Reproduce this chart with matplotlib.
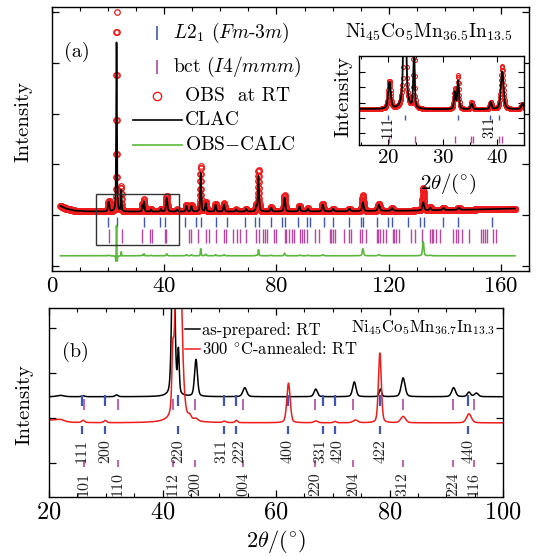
import numpy as np
import matplotlib
matplotlib.use("Agg")
import matplotlib.pyplot as plt
from matplotlib.ticker import MultipleLocator
from matplotlib.patches import Rectangle
from matplotlib.transforms import offset_copy

plt.rcParams["font.family"] = ["cmr10", "DejaVu Serif"]
plt.rcParams["mathtext.fontset"] = "cm"
plt.rcParams["axes.formatter.use_mathtext"] = True
plt.rcParams["axes.unicode_minus"] = False

# ---------------- panel (a) data (Rietveld refinement) ----------------
a_range = [3.0, 165.0]
a_step = 0.05
a_bg_x = [3, 5, 8, 12, 20, 60, 100, 130, 150, 165]
a_bg_y = [1.18, 1.13, 1.09, 1.075, 1.07, 1.07, 1.075, 1.09, 1.11, 1.13]
a_peak_pos = [20.2, 23.0, 24.7, 32.2, 32.8, 35.3, 38.8, 40.9, 44.6, 47.9, 49.7,
              53.0, 54.8, 58.3, 61.3, 65.6, 69.2, 72.8, 73.6, 78.1, 82.9, 88.2,
              91.2, 96.5, 100.2, 106.0, 110.8, 116.5, 121.2, 132.3, 134.8,
              139.5, 145.0]
a_obs_h = [0.20, 3.93, 0.50, 0.14, 0.24, 0.05, 0.05, 0.31, 0.04, 0.13, 0.13,
           0.90, 0.19, 0.15, 0.16, 0.04, 0.05, 0.11, 0.82, 0.08, 0.32, 0.11,
           0.06, 0.15, 0.05, 0.05, 0.31, 0.14, 0.05, 0.44, 0.06, 0.04, 0.04]
a_calc_h = [0.19, 3.33, 0.42, 0.12, 0.20, 0.04, 0.05, 0.27, 0.04, 0.11, 0.11,
            0.76, 0.16, 0.13, 0.14, 0.04, 0.05, 0.10, 0.70, 0.07, 0.27, 0.10,
            0.05, 0.13, 0.05, 0.05, 0.17, 0.12, 0.05, 0.16, 0.05, 0.04, 0.04]
a_fwhm = [0.55, 0.28, 0.28, 0.35, 0.35, 0.40, 0.40, 0.55, 0.50, 0.50, 0.50,
          0.40, 0.50, 0.50, 0.50, 0.50, 0.50, 0.50, 0.45, 0.60, 0.55, 0.60,
          0.60, 0.60, 0.60, 0.70, 0.60, 0.80, 0.70, 0.60, 0.70, 0.80, 0.80]
a_calc_fwhm = [0.55, 0.32, 0.30, 0.35, 0.37, 0.40, 0.40, 0.57, 0.50, 0.50, 0.50,
               0.42, 0.50, 0.50, 0.50, 0.50, 0.50, 0.50, 0.47, 0.60, 0.57, 0.60,
               0.60, 0.60, 0.60, 0.70, 0.65, 0.80, 0.70, 0.70, 0.70, 0.80, 0.80]
a_diff_offset = 0.2
a_l21_ticks = [20.0, 23.0, 32.7, 38.6, 40.4, 47.3, 51.4, 53.0, 58.5, 62.5, 68.9,
               72.3, 73.6, 78.2, 81.8, 83.0, 87.5, 90.8, 92.1, 96.8, 100.1, 106.0,
               110.0, 110.8, 115.7, 119.7, 121.1, 126.8, 131.2, 132.7, 139.2,
               144.8, 156.8]
a_bct_ticks = [20.2, 24.8, 32.2, 35.1, 35.5, 40.4, 40.8, 48.8, 49.7, 52.0, 55.0,
               55.9, 58.5, 61.2, 61.9, 64.5, 65.9, 66.9, 69.2, 72.8, 73.7, 75.2,
               76.0, 76.7, 79.1, 79.9, 82.9, 83.5, 84.4, 85.5, 86.1, 88.5, 89.1,
               89.7, 90.8, 93.9, 95.1, 98.9, 99.5, 100.1, 100.7, 104.2, 106.0,
               106.6, 109.6, 110.5, 111.9, 115.7, 116.3, 116.9, 117.9, 119.1,
               121.4, 122.0, 122.6, 123.5, 128.0, 129.5, 131.9, 134.7, 135.3,
               135.9, 136.9, 138.3, 143.0, 143.9, 144.8, 146.1, 148.7, 152.9,
               153.7, 154.4, 155.2, 157.0, 158.2]
a_l21_rows = [0.77, 0.96]
a_bct_rows = [0.46, 0.72]
a_inset_l21_rows = [0.994, 1.03]
a_inset_bct_rows = [0.83, 0.88]
a_inset_labels = ["111", "311"]
a_inset_label_pos = [20.0, 38.6]
a_inset_label_y = 0.944
a_zoom_box = [15.6, 45.2, 0.41, 1.41]
a_legend_labels = [r"$L2_1$ $(Fm$-$3m)$", r"bct $(I4/mmm)$", "OBS  at RT",
                   "CLAC", r"OBS$-$CALC"]

# ---------------- panel (b) data ----------------
b_range = [20.0, 100.0]
b_step = 0.02
b_asprep_base = 1.47
b_asprep_pos = [22.0, 26.0, 31.9, 41.9, 42.8, 45.9, 54.5, 67.0, 73.8, 78.4,
                82.4, 91.3, 94.0, 95.3]
b_asprep_h = [0.03, 0.02, 0.04, 4.0, 0.95, 0.82, 0.20, 0.17, 0.33, 0.17,
              0.42, 0.20, 0.10, 0.08]
b_asprep_w = [1.5, 0.6, 0.6, 0.6, 0.35, 0.6, 0.8, 0.7, 0.7, 0.5, 0.8, 0.8,
              0.7, 0.8]
b_ann_bg_x = [20, 23, 30, 100]
b_ann_bg_y = [0.95, 0.90, 0.89, 0.89]
b_ann_pos = [22.0, 26.0, 29.9, 41.8, 42.8, 44.8, 45.9, 50.9, 53.0, 62.2,
             67.0, 70.4, 74.0, 78.3, 82.4, 94.0]
b_ann_h = [0.05, 0.05, 0.05, 0.90, 5.0, 0.08, 0.05, 0.03, 0.05, 0.88, 0.04,
           0.03, 0.06, 1.55, 0.14, 0.20]
b_ann_w = [2.0, 0.6, 0.6, 0.35, 1.2, 0.6, 0.8, 0.6, 0.5, 0.7, 0.8, 0.6, 1.0,
           0.6, 1.0, 1.0]
b_l21_pos = [25.8, 29.9, 42.8, 50.9, 53.0, 62.1, 68.3, 70.4, 78.4, 93.9]
b_l21_hkl = ["111", "200", "220", "311", "222", "400", "331", "420", "422", "440"]
b_l21_nudge = [0, 0, 0, -2, 2, 0, -2, 2, 0, 0]
b_bct_pos = [26.2, 32.1, 41.8, 45.8, 54.2, 66.9, 73.6, 82.3, 91.2, 94.9]
b_bct_hkl = ["101", "110", "112", "200", "004", "220", "204", "312", "224", "116"]
b_l21_rows_top = [1.27, 1.50]
b_bct_rows_top = [1.18, 1.41]
b_l21_rows_low = [0.64, 0.82]
b_bct_rows_low = [-0.10, 0.07]
b_l21_label_y = 0.27
b_bct_label_y = -0.47

BLUE = "#3f56b5"
MAG = "#b9479f"
GREEN = "#5cb83c"
RED = "#ee1c1c"


def profile(x, pos, h, w, eta):
    x = np.asarray(x)[:, None]
    pos = np.asarray(pos)[None, :]
    h = np.asarray(h)[None, :]
    g = np.asarray(w)[None, :] / 2.0
    u = ((x - pos) / g) ** 2
    return (h * (eta / (1 + u) + (1 - eta) * np.exp(-np.log(2) * u))).sum(axis=1)


xa = np.arange(a_range[0], a_range[1] + 1e-9, a_step)
bga = np.interp(xa, a_bg_x, a_bg_y)
obs = bga + profile(xa, a_peak_pos, a_obs_h, a_fwhm, 0.5)
calc = bga + profile(xa, a_peak_pos, a_calc_h, a_calc_fwhm, 0.5)
diff = obs - calc + a_diff_offset

xb = np.arange(b_range[0], b_range[1] + 1e-9, b_step)
y_asprep = b_asprep_base + profile(xb, b_asprep_pos, b_asprep_h, b_asprep_w, 0.35)
y_ann = np.interp(xb, b_ann_bg_x, b_ann_bg_y) + profile(xb, b_ann_pos, b_ann_h, b_ann_w, 0.3)

fig = plt.figure(figsize=(5.47, 5.56), dpi=100)

# ---------------- panel (a) ----------------
ax = fig.add_axes([52 / 547, 1 - 271 / 556, 477 / 547, 264 / 556])
ax.plot(xa, obs, ls="none", marker="o", ms=4.0, mfc="none", mec=RED,
        mew=0.9, zorder=2)
ax.plot(xa, calc, color="black", lw=1.2, zorder=3)
ax.plot(xa, diff, color=GREEN, lw=1.2, zorder=3)
ax.vlines(a_l21_ticks, *a_l21_rows, color=BLUE, lw=1.0)
ax.vlines(a_bct_ticks, *a_bct_rows, color=MAG, lw=1.0)
ax.add_patch(Rectangle((a_zoom_box[0], a_zoom_box[2]),
                       a_zoom_box[1] - a_zoom_box[0], a_zoom_box[3] - a_zoom_box[2],
                       fill=False, ec="#333333", lw=1.0, zorder=4))
ax.set_xlim(0, 170)
ax.set_ylim(-0.1, 5.1)
ax.set_xticks([0, 40, 80, 120, 160])
ax.xaxis.set_minor_locator(MultipleLocator(10))
ax.set_yticks([0, 1, 2, 3, 4, 5])
ax.tick_params(which="both", direction="in", top=True, right=True,
               labelleft=False, labelsize=16.5, pad=4)
ax.tick_params(which="major", length=5, width=0.9)
ax.tick_params(which="minor", length=3, width=0.8)
ax.set_ylabel("Intensity", fontsize=15)
ax.yaxis.set_label_coords(-0.04, 0.568)
ax.text(0.053, 0.83, "(a)", transform=ax.transAxes, fontsize=14.5,
        ha="center", va="center")
ax.text(0.789, 0.905, r"Ni$_{45}$Co$_{5}$Mn$_{36.5}$In$_{13.5}$",
        transform=ax.transAxes, fontsize=14, ha="center", va="center")

# hand-placed key (rows are unevenly spaced in the original)
T = ax.transAxes
ax.plot([0.220], [0.902], ls="none", marker="|", ms=9.5, mew=1.2, color=BLUE, transform=T)
ax.plot([0.220], [0.773], ls="none", marker="|", ms=10.5, mew=1.2, color=MAG, transform=T)
ax.plot([0.220], [0.663], ls="none", marker="o", ms=6, mfc="none", mec=RED, mew=1.0, transform=T)
ax.plot([0.170, 0.273], [0.572, 0.572], color="black", lw=1.2, transform=T)
ax.plot([0.170, 0.273], [0.477, 0.477], color=GREEN, lw=1.2, transform=T)
for lab, tx, ty in zip(a_legend_labels, [0.254, 0.254, 0.279, 0.279, 0.279],
                       [0.902, 0.773, 0.663, 0.572, 0.477]):
    ax.text(tx, ty, lab, transform=T, fontsize=14, ha="left", va="center")

# inset
axi = fig.add_axes([359 / 547, 1 - 145 / 556, 165 / 547, 89 / 556])
m = (xa >= 14) & (xa <= 46)
axi.plot(xa[m], obs[m], ls="none", marker="o", ms=2.8, mfc="none", mec=RED,
         mew=0.8, zorder=2)
axi.plot(xa[m], calc[m], color="black", lw=1.3, zorder=3)
axi.vlines(a_l21_ticks, *a_inset_l21_rows, color=BLUE, lw=1.0)
axi.vlines(a_bct_ticks, *a_inset_bct_rows, color=MAG, lw=1.0)
for lab, p in zip(a_inset_labels, a_inset_label_pos):
    axi.text(p, a_inset_label_y, lab, rotation=90, ha="center", va="center",
             fontsize=10.5)
axi.set_xlim(14.6, 44.9)
axi.set_ylim(0.816, 1.451)
axi.set_xticks([20, 30, 40])
axi.xaxis.set_minor_locator(MultipleLocator(5))
axi.set_yticks([0.9, 1.009, 1.116, 1.23, 1.337])
axi.tick_params(which="both", direction="in", top=True, right=True,
                labelleft=False, labelsize=15, pad=3)
axi.tick_params(which="major", length=4, width=0.8)
axi.tick_params(which="minor", length=2, width=0.7)
axi.set_ylabel("Intensity", fontsize=15)
axi.yaxis.set_label_coords(-0.042, 0.54)
axi.set_xlabel(r"$2\theta/(^{\circ})$", fontsize=15)
axi.xaxis.set_label_coords(0.54, -0.30)

# ---------------- panel (b) ----------------
bx = fig.add_axes([49 / 547, 1 - 497 / 556, 454 / 547, 189 / 556])
l1, = bx.plot(xb, y_asprep, color="black", lw=1.1, label="as-prepared: RT")
l2, = bx.plot(xb, y_ann, color=RED, lw=1.1,
              label=r"300 $^{\circ}$C-annealed: RT")
bx.vlines(b_l21_pos, *b_l21_rows_top, color=BLUE, lw=1.6)
bx.vlines(b_bct_pos, *b_bct_rows_top, color=MAG, lw=1.4, alpha=0.85)
bx.vlines(b_l21_pos, *b_l21_rows_low, color=BLUE, lw=1.6)
bx.vlines(b_bct_pos, *b_bct_rows_low, color=MAG, lw=1.4, alpha=0.85)
for lab, p, dx in zip(b_l21_hkl, b_l21_pos, b_l21_nudge):
    tr = offset_copy(bx.transData, fig=fig, x=dx, y=0, units="points")
    bx.text(p, b_l21_label_y, lab, rotation=90, ha="center", va="center",
            fontsize=11.5, color="#222222", transform=tr)
for lab, p in zip(b_bct_hkl, b_bct_pos):
    bx.text(p, b_bct_label_y, lab, rotation=90, ha="center", va="center",
            fontsize=11.5, color="#222222")
bx.set_xlim(20, 100)
bx.set_ylim(-0.756, 3.44)
bx.set_xticks([20, 40, 60, 80, 100])
bx.xaxis.set_minor_locator(MultipleLocator(5))
bx.set_yticks([0, 1, 2, 3])
bx.tick_params(which="both", direction="in", top=True, right=True,
               labelleft=False, labelsize=17.5, pad=3)
bx.tick_params(which="major", length=5, width=0.9)
bx.tick_params(which="minor", length=3, width=0.8)
bx.set_ylabel("Intensity", fontsize=15)
bx.yaxis.set_label_coords(-0.035, 0.487)
bx.set_xlabel(r"$2\theta/(^{\circ})$", fontsize=16)
bx.xaxis.set_label_coords(0.5, -0.165)
bx.legend(handles=[l1, l2], loc="upper left", bbox_to_anchor=(0.30, 0.925),
          frameon=False, fontsize=12, handlelength=0.9, handletextpad=0.12,
          borderpad=0, borderaxespad=0, labelspacing=0.15)
bx.text(0.058, 0.767, "(b)", transform=bx.transAxes, fontsize=14.5,
        ha="center", va="center")
bx.text(0.823, 0.894, r"Ni$_{45}$Co$_{5}$Mn$_{36.7}$In$_{13.3}$",
        transform=bx.transAxes, fontsize=12, ha="center", va="center")

for a in (ax, axi, bx):
    for s in a.spines.values():
        s.set_linewidth(1.0)

fig.savefig("out.png", dpi=100)
